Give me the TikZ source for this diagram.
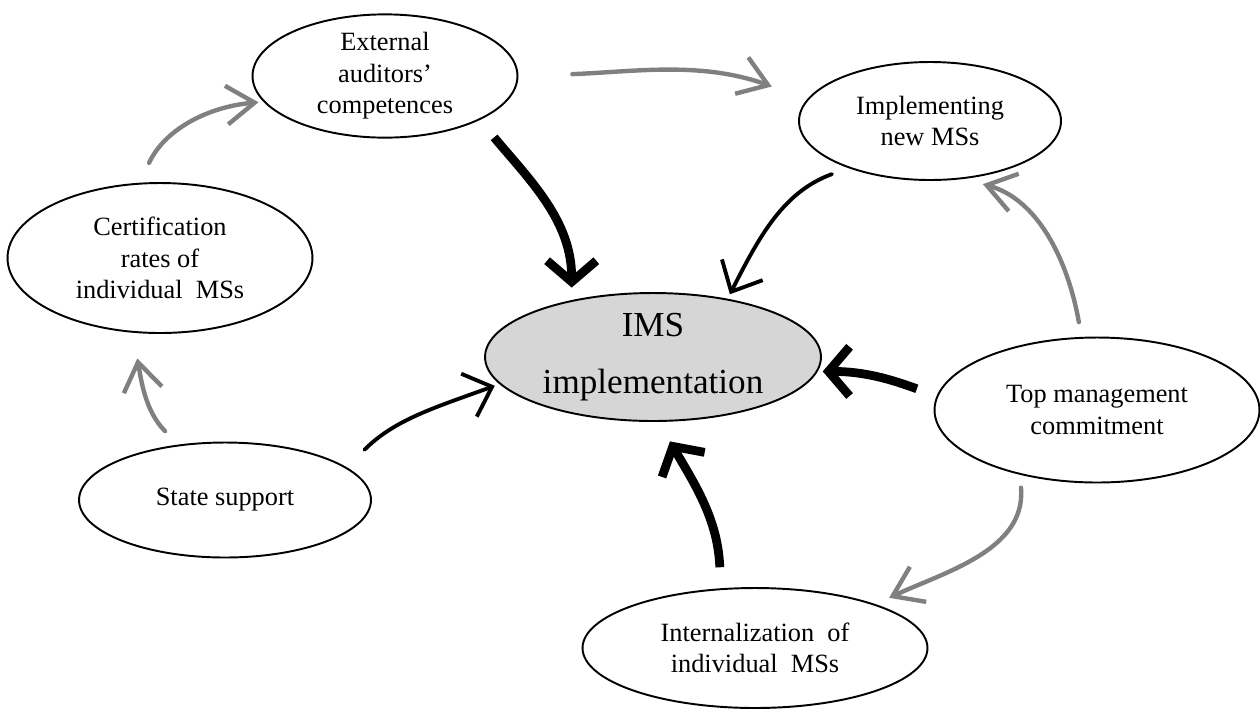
\documentclass[tikz,border=0pt]{standalone}
\usepackage{fontspec}
\setmainfont{Liberation Serif}
\usetikzlibrary{arrows.meta,shapes.geometric}

\begin{document}
\begin{tikzpicture}[x=0.02cm, y=-0.02cm,
  bubble/.style={ellipse, draw=black, line width=1.1pt, inner sep=0pt, fill=white,
    align=center, font=\fontsize{15}{18}\selectfont},
  hub/.style={bubble, fill=black!16, font=\fontsize{20}{32}\selectfont},
  grayarr/.style={-{Straight Barb[length=16pt,width=22pt]}, draw=gray, line width=2.5pt, line cap=round},
  boldarr/.style={-{Straight Barb[length=12pt,width=28pt]}, draw=black, line width=5pt},
  thinarr/.style={-{Straight Barb[length=14pt,width=26pt]}, draw=black, line width=2.2pt, line cap=round}
]
\useasboundingbox (0,0) rectangle (1260,711);
\node[bubble, minimum width=5.3cm, minimum height=2.1cm] (ext) at (385,76) {External\\auditors’\\competences};
\node[bubble, minimum width=5.24cm, minimum height=2.36cm] (impl) at (930,121) {Implementing\\new MSs};
\node[bubble, minimum width=6.1cm, minimum height=3cm] (cert) at (160,258) {Certification\\rates of\\individual\ \ MSs};
\node[hub, minimum width=6.72cm, minimum height=2.56cm] (ims) at (653,357) {IMS\\implementation};
\node[bubble, minimum width=6.5cm, minimum height=2.9cm] (top) at (1097,410) {Top management\\commitment};
\node[bubble, minimum width=5.84cm, minimum height=2.3cm] (state) at (225,500) {State support};
\node[bubble, minimum width=6.9cm, minimum height=2.4cm] (intern) at (755,648) {Internalization\ \ of\\individual\ \ MSs};
% gray links between factors
\draw[grayarr, shorten <=1.08cm, shorten >=0.75cm] (ext.east) to[out=2, in=160] (impl.170);
\draw[grayarr, shorten <=0.44cm, shorten >=0.1cm] (cert.105) to[out=65, in=185] (ext.192);
\draw[grayarr, shorten <=0.38cm, shorten >=0.52cm] (state.130) to[out=135, in=-80] (cert.250);
\draw[grayarr, shorten <=0.3cm, shorten >=0.4cm] (top.102) to[out=100, in=-15] (impl.-60);
\draw[grayarr, shorten <=0.26cm, shorten >=0.3cm] (top.220) to[out=-85, in=25] (intern.20);
% black links into the IMS
\draw[boldarr, shorten <=0.45cm, shorten >=0.25cm] (ext.-25) to[out=-50, in=90] (ims.145);
\draw[thinarr, shorten <=0.35cm, shorten >=0.1cm] (impl.-150) to[out=-160, in=63] (ims.38);
\draw[thinarr, shorten <=0.5cm, shorten >=0.1cm] (state.15) to[out=45, in=200] (ims.190);
\draw[boldarr, shorten <=0.42cm, shorten >=0.1cm] (top.175) to[out=160, in=0] (ims.-5);
\draw[boldarr, shorten <=0.42cm, shorten >=0.45cm] (intern.120) to[out=92, in=-60] (ims.-85);
\end{tikzpicture}
\end{document}
